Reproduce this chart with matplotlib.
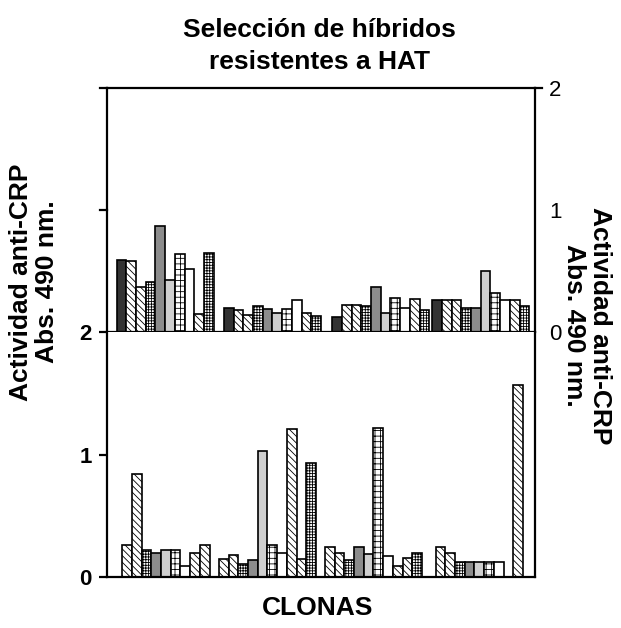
import matplotlib.pyplot as plt
import numpy as np

plt.rcParams['font.family'] = ['Liberation Sans', 'DejaVu Sans']
plt.rcParams['hatch.linewidth'] = 0.6

# Absorbance values (490 nm) per clone, four groups of clones per panel
top_groups = [
    [0.59, 0.58, 0.37, 0.41, 0.87, 0.43, 0.64, 0.52, 0.15, 0.65],
    [0.20, 0.18, 0.14, 0.21, 0.19, 0.16, 0.19, 0.26, 0.16, 0.13],
    [0.12, 0.22, 0.22, 0.21, 0.37, 0.16, 0.28, 0.20, 0.27, 0.18],
    [0.26, 0.26, 0.26, 0.20, 0.20, 0.50, 0.32, 0.26, 0.26, 0.21],
]
bottom_groups = [
    [0.26, 0.84, 0.22, 0.20, 0.22, 0.22, 0.09, 0.20, 0.26, np.nan],
    [0.15, 0.18, 0.11, 0.14, 1.03, 0.26, 0.20, 1.21, 0.15, 0.93],
    [0.245, 0.20, 0.14, 0.245, 0.19, 1.22, 0.17, 0.09, 0.155, 0.195],
    [0.245, 0.195, 0.12, 0.12, 0.12, 0.125, 0.12, np.nan, 1.57, np.nan],
]

# bar fill styles, one per clone position in a group
DIAG = '\\\\\\\\\\'
CHECK = '++++++'
LADDER = '+++'
top_styles = [
    ('#333333', ''), ('white', DIAG), ('white', DIAG), ('white', CHECK),
    ('#8c8c8c', ''), ('#cfcfcf', ''), ('white', LADDER), ('white', ''),
    ('white', DIAG), ('white', CHECK),
]
bottom_styles = [
    ('white', DIAG), ('white', DIAG), ('white', CHECK), ('#8c8c8c', ''),
    ('#cfcfcf', ''), ('white', LADDER), ('white', ''), ('white', DIAG),
    ('white', DIAG), ('white', CHECK),
]

# layout (pixel units along the x axis)
bar_w = 9.7
top_starts = [9.7, 117, 225.3, 325.3]
bottom_starts = [15.3, 112, 218, 328.7]

fig = plt.figure(figsize=(6.21, 6.28), dpi=100)
ax_top = fig.add_axes([0.1723, 0.4713, 0.6892, 0.3885])
ax_bot = fig.add_axes([0.1723, 0.0812, 0.6892, 0.3901])


def draw_groups(ax, groups, starts, styles):
    for g, vals in enumerate(groups):
        for i, v in enumerate(vals):
            if np.isnan(v):
                continue
            fc, hatch = styles[i]
            ax.bar(starts[g] + i * bar_w, v, width=bar_w, align='edge',
                   facecolor=fc, hatch=hatch, edgecolor='black', linewidth=1.2)


draw_groups(ax_top, top_groups, top_starts, top_styles)
draw_groups(ax_bot, bottom_groups, bottom_starts, bottom_styles)

for ax in (ax_top, ax_bot):
    ax.set_xlim(0, 428)
    ax.set_ylim(0, 2)
    ax.set_xticks([])
    for s in ax.spines.values():
        s.set_linewidth(1.6)

# top panel: scale on the right, bare ticks on the left
ax_top.yaxis.tick_right()
ax_top.set_yticks([0, 1, 2])
ax_top.set_yticklabels(['0', '1', '2'], fontsize=16)
ax_top.tick_params(axis='y', which='both', right=True, left=False, length=0, pad=10)
for y in [1, 2]:
    ax_top.plot([-0.016, 0], [y / 2, y / 2], transform=ax_top.transAxes,
                color='black', lw=1.6, clip_on=False)
ax_top.plot([1, 1.016], [1, 1], transform=ax_top.transAxes,
            color='black', lw=1.6, clip_on=False)

# bottom panel
ax_bot.spines['top'].set_visible(False)
ax_bot.set_yticks([0, 1, 2])
ax_bot.set_yticklabels(['0', '1', '2'], fontsize=16, fontweight='bold')
ax_bot.tick_params(axis='y', direction='out', length=6, width=1.6, pad=5)

fig.text(0.514, 0.927, 'Selección de híbridos\nresistentes a HAT', ha='center',
         va='center', fontsize=19, fontweight='bold', linespacing=1.4)
fig.text(0.055, 0.551, 'Actividad anti-CRP\nAbs. 490 nm.', rotation=90,
         ha='center', va='center', fontsize=19, fontweight='bold', linespacing=1.1)
fig.text(0.945, 0.482, 'Actividad anti-CRP\nAbs. 490 nm.', rotation=270,
         ha='center', va='center', fontsize=19, fontweight='bold', linespacing=1.1)
fig.text(0.512, 0.032, 'CLONAS', ha='center', va='center', fontsize=19,
         fontweight='bold')

plt.savefig('out.png', dpi=100)
